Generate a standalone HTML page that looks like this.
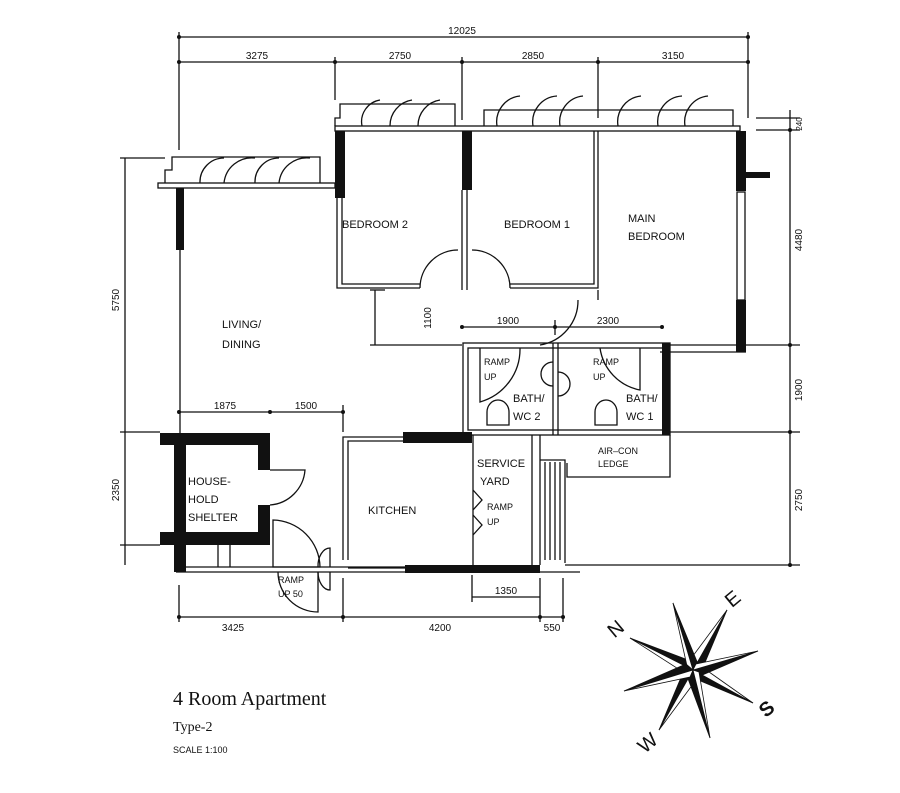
<!DOCTYPE html>
<html><head><meta charset="utf-8"><style>
html,body{margin:0;padding:0;background:#fff;width:900px;height:793px;overflow:hidden}
svg{display:block}
text{font-family:"Liberation Sans",sans-serif;fill:#111}
text.serif{font-family:"Liberation Serif",serif}
</style></head><body>
<svg width="900" height="793" viewBox="0 0 900 793" xmlns="http://www.w3.org/2000/svg">
<g stroke="#111" stroke-width="1.3" fill="none">
<line x1="179" y1="37" x2="748" y2="37"/>
<line x1="179" y1="62" x2="748" y2="62"/>
<line x1="179" y1="32" x2="179" y2="150"/>
<line x1="748" y1="32" x2="748" y2="118"/>
<line x1="335" y1="57" x2="335" y2="100"/>
<line x1="462" y1="57" x2="462" y2="120"/>
<line x1="598" y1="57" x2="598" y2="118"/>
<line x1="790" y1="110" x2="790" y2="565"/>
<line x1="756" y1="118" x2="800" y2="118"/>
<line x1="756" y1="130" x2="800" y2="130"/>
<line x1="668" y1="345" x2="800" y2="345"/>
<line x1="668" y1="432" x2="800" y2="432"/>
<line x1="565" y1="565" x2="800" y2="565"/>
<line x1="125" y1="158" x2="125" y2="565"/>
<line x1="120" y1="158" x2="165" y2="158"/>
<line x1="120" y1="432" x2="160" y2="432"/>
<line x1="120" y1="545" x2="160" y2="545"/>
<line x1="179" y1="412" x2="343" y2="412"/>
<line x1="343" y1="405" x2="343" y2="432"/>
<line x1="179" y1="617" x2="563" y2="617"/>
<line x1="179" y1="585" x2="179" y2="622"/>
<line x1="343" y1="578" x2="343" y2="622"/>
<line x1="540" y1="578" x2="540" y2="622"/>
<line x1="563" y1="578" x2="563" y2="622"/>
<line x1="472" y1="597" x2="540" y2="597"/>
<line x1="472" y1="575" x2="472" y2="602"/>
<line x1="375" y1="290" x2="375" y2="345"/>
<line x1="370" y1="290" x2="385" y2="290"/>
<line x1="370" y1="345" x2="462" y2="345"/>
<line x1="462" y1="327" x2="662" y2="327"/>
<line x1="555" y1="320" x2="555" y2="335"/>
</g>
<g fill="#111">
<circle cx="179" cy="37" r="2"/><circle cx="748" cy="37" r="2"/>
<circle cx="179" cy="62" r="2"/><circle cx="335" cy="62" r="2"/><circle cx="462" cy="62" r="2"/><circle cx="598" cy="62" r="2"/><circle cx="748" cy="62" r="2"/>
<circle cx="179" cy="617" r="2"/><circle cx="343" cy="617" r="2"/><circle cx="540" cy="617" r="2"/><circle cx="563" cy="617" r="2"/>
<circle cx="179" cy="412" r="2"/><circle cx="270" cy="412" r="2"/><circle cx="343" cy="412" r="2"/>
<circle cx="790" cy="130" r="2"/><circle cx="790" cy="345" r="2"/><circle cx="790" cy="432" r="2"/><circle cx="790" cy="565" r="2"/>
<circle cx="462" cy="327" r="2"/><circle cx="555" cy="327" r="2"/><circle cx="662" cy="327" r="2"/>
</g>
<g font-size="10" text-anchor="middle">
<text x="462" y="34">12025</text>
<text x="257" y="59">3275</text><text x="400" y="59">2750</text><text x="533" y="59">2850</text><text x="673" y="59">3150</text>
<text x="225" y="409">1875</text><text x="306" y="409">1500</text>
<text x="508" y="324">1900</text><text x="608" y="324">2300</text>
<text x="233" y="631">3425</text><text x="440" y="631">4200</text><text x="552" y="631">550</text>
<text x="506" y="594">1350</text>
<text transform="translate(119,300) rotate(-90)">5750</text>
<text transform="translate(119,490) rotate(-90)">2350</text>
<text transform="translate(802,240) rotate(-90)">4480</text>
<text transform="translate(802,390) rotate(-90)">1900</text>
<text transform="translate(802,500) rotate(-90)">2750</text>
<text transform="translate(802,124) rotate(-90)" font-size="8">240</text>
<text transform="translate(431,318) rotate(-90)">1100</text>
</g>
<g stroke="#111" stroke-width="1.3" fill="none">
<rect x="158" y="183" width="177" height="5"/>
<polyline points="165,183 165,170 172,170 172,157 320,157 320,183"/>
<path d="M200,183 A24,24 0 0 1 224,158 M224,183 A28,28 0 0 1 255,158 M255,183 A24,24 0 0 1 279,158 M279,183 A28,28 0 0 1 310,158"/>
<rect x="335" y="126" width="405" height="5"/>
<polyline points="335,126 335,118 340,118 340,104 455,104 455,126"/>
<polyline points="484,126 484,110 733,110 733,126"/>
<path d="M362,126 A22,22 0 0 1 380,100 M390,126 A26,26 0 0 1 412,100 M418,126 A26,26 0 0 1 440,100"/>
<path d="M497,126 A26,26 0 0 1 520,96 M533,126 A26,26 0 0 1 557,96 M560,126 A26,26 0 0 1 583,96"/>
<path d="M618,126 A26,26 0 0 1 641,96 M658,126 A26,26 0 0 1 682,96 M685,126 A26,26 0 0 1 708,96"/>
<polyline points="337,198 337,288 420,288"/>
<polyline points="342,198 342,284 420,284"/>
<line x1="462" y1="190" x2="462" y2="290"/><line x1="467" y1="190" x2="467" y2="290"/>
<polyline points="510,288 598,288 598,131"/>
<polyline points="510,284 594,284 594,131"/>
<path d="M420,288 A38,38 0 0 1 458,250 M472,250 A38,38 0 0 1 510,288"/>
<path d="M598,290 L598,300 M578,300 A45,45 0 0 1 540,345"/>
<rect x="737" y="192" width="8" height="108"/>
<line x1="660" y1="352" x2="746" y2="352"/>
<rect x="463" y="343" width="207" height="92"/>
<rect x="468" y="348" width="197" height="82"/>
<line x1="553" y1="343" x2="553" y2="435"/><line x1="558" y1="343" x2="558" y2="435"/>
<path d="M480,348 L480,402 A55,55 0 0 0 520,348"/>
<path d="M600,348 A50,50 0 0 0 640,390 L640,348"/>
<path d="M553,362 A12,12 0 0 0 553,386 M558,372 A12,12 0 0 1 558,396"/>
<path d="M487,425 L487,412 A11,12 0 0 1 509,412 L509,425 Z"/>
<path d="M595,425 L595,412 A11,12 0 0 1 617,412 L617,425 Z"/>
<line x1="473" y1="435" x2="473" y2="565"/>
<line x1="532" y1="435" x2="532" y2="565"/><line x1="540" y1="435" x2="540" y2="565"/>
<polyline points="540,460 565,460 565,563"/>
<line x1="545" y1="462" x2="545" y2="560"/><line x1="550" y1="462" x2="550" y2="560"/><line x1="555" y1="462" x2="555" y2="560"/><line x1="560" y1="462" x2="560" y2="560"/>
<polyline points="567,463 567,477 670,477 670,435"/>
<line x1="540" y1="572" x2="580" y2="572"/>
<path d="M473,490 L482,500 L473,510 M473,515 L482,525 L473,535"/>
<polyline points="403,437 343,437 343,560"/>
<polyline points="403,441 348,441 348,560"/>
<line x1="348" y1="568" x2="405" y2="568"/>
<line x1="180" y1="250" x2="180" y2="433"/>
<line x1="176" y1="572" x2="405" y2="572"/>
<line x1="186" y1="567" x2="405" y2="567"/>
<line x1="218" y1="545" x2="218" y2="567"/><line x1="230" y1="545" x2="230" y2="567"/>
<path d="M270,505 A38,38 0 0 0 305,470 L270,470"/>
<path d="M273,520 A48,48 0 0 1 320,567 L273,567 Z"/>
<path d="M278,572 A40,40 0 0 0 318,612 L318,572"/>
<path d="M318,567 A12,18 0 0 1 330,548 L330,567 M318,572 A12,18 0 0 0 330,590 L330,572"/>
</g>
<g fill="#111">
<rect x="176" y="188" width="8" height="62"/>
<rect x="335" y="131" width="10" height="67"/>
<rect x="462" y="131" width="10" height="59"/>
<rect x="736" y="131" width="10" height="60"/>
<rect x="736" y="300" width="10" height="52"/>
<rect x="746" y="172" width="24" height="6"/>
<rect x="662" y="343" width="8" height="92"/>
<rect x="403" y="432" width="69" height="11"/>
<rect x="405" y="565" width="135" height="8"/>
<rect x="160" y="433" width="110" height="12"/>
<rect x="160" y="532" width="110" height="13"/>
<rect x="174" y="433" width="12" height="139"/>
<rect x="258" y="433" width="12" height="37"/>
<rect x="258" y="505" width="12" height="40"/>
</g>
<g font-size="11">
<text x="342" y="228">BEDROOM  2</text>
<text x="504" y="228">BEDROOM  1</text>
<text x="628" y="222">MAIN</text><text x="628" y="240">BEDROOM</text>
<text x="222" y="328">LIVING/</text><text x="222" y="348">DINING</text>
<text x="188" y="485">HOUSE-</text><text x="188" y="503">HOLD</text><text x="188" y="521">SHELTER</text>
<text x="368" y="514">KITCHEN</text>
<text x="477" y="467">SERVICE</text><text x="480" y="485">YARD</text>
<text x="513" y="402">BATH/</text><text x="513" y="420">WC  2</text>
<text x="626" y="402">BATH/</text><text x="626" y="420">WC  1</text>
</g>
<g font-size="9">
<text x="484" y="365">RAMP</text><text x="484" y="380">UP</text>
<text x="593" y="365">RAMP</text><text x="593" y="380">UP</text>
<text x="598" y="454">AIR–CON</text><text x="598" y="467">LEDGE</text>
<text x="487" y="510">RAMP</text><text x="487" y="525">UP</text>
<text x="278" y="583">RAMP</text><text x="278" y="597">UP  50</text>
</g>
<text class="serif" x="173" y="705" font-size="20">4 Room Apartment</text>
<text class="serif" x="173" y="731" font-size="14">Type-2</text>
<text x="173" y="753" font-size="9">SCALE  1:100</text>
<g stroke="#111" stroke-width="0.8">
<polygon points="630,638 693,670 688,660" fill="#111"/><polygon points="630,638 693,670 683,672" fill="#fff"/>
<polygon points="727,610 693,670 701,672" fill="#111"/><polygon points="727,610 693,670 687,664" fill="#fff"/>
<polygon points="753,703 693,670 698,680" fill="#111"/><polygon points="753,703 693,670 702,667" fill="#fff"/>
<polygon points="659,730 693,670 685,668" fill="#111"/><polygon points="659,730 693,670 699,676" fill="#fff"/>
<polygon points="673,603 693,670 698,664" fill="#111"/><polygon points="673,603 693,670 687,666" fill="#fff"/>
<polygon points="758,651 693,670 700,676" fill="#111"/><polygon points="758,651 693,670 696,664" fill="#fff"/>
<polygon points="710,738 693,670 687,676" fill="#111"/><polygon points="710,738 693,670 699,672" fill="#fff"/>
<polygon points="624,691 693,670 686,664" fill="#111"/><polygon points="624,691 693,670 690,677" fill="#fff"/>
</g>
<g font-size="20" text-anchor="middle">
<text transform="translate(620,634) rotate(-40)">N</text>
<text transform="translate(737,604) rotate(-40)">E</text>
<text transform="translate(771,714) rotate(-40)" font-weight="bold">S</text>
<text transform="translate(652,748) rotate(-40)">W</text>
</g>
</svg>
</body></html>
